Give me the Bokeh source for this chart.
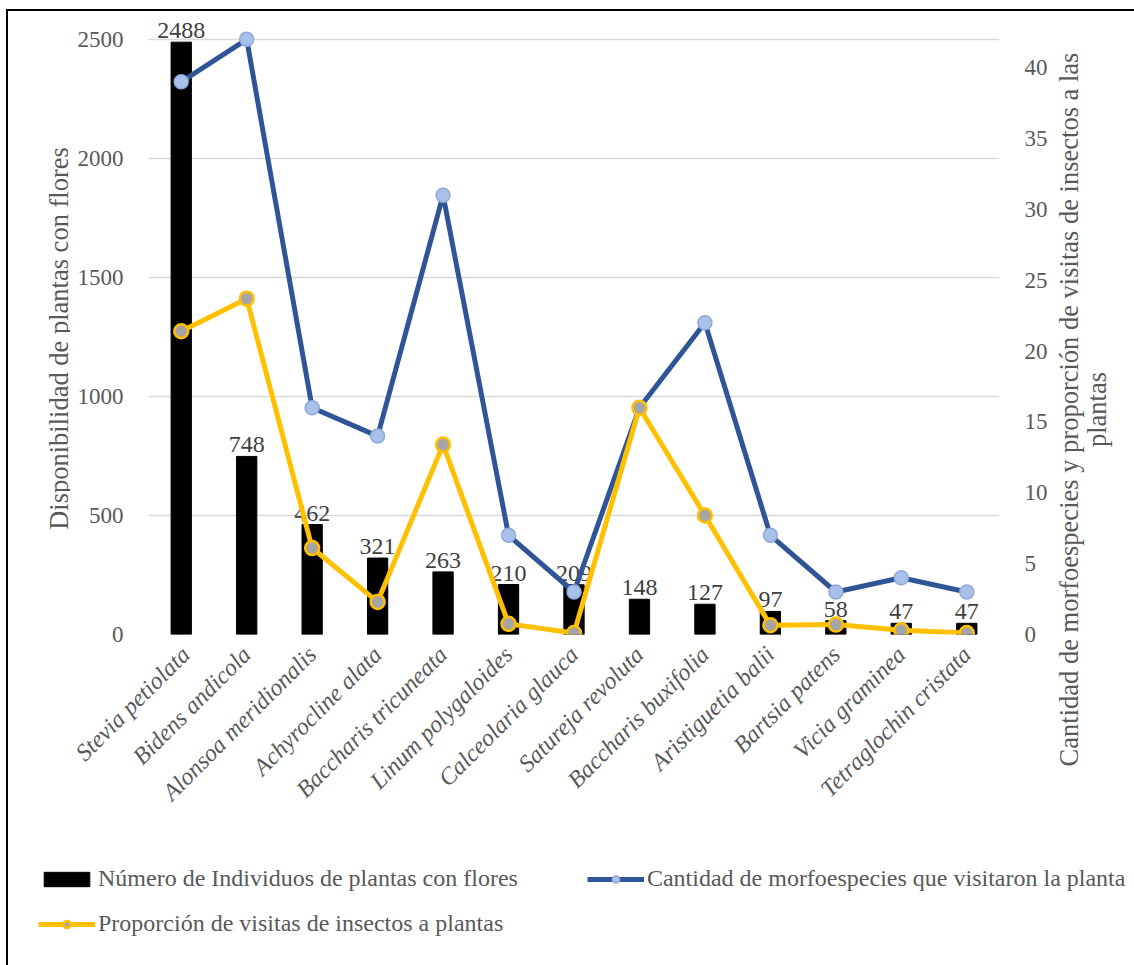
import math

from bokeh.core.properties import value
from bokeh.embed import file_html
from bokeh.layouts import column, row
from bokeh.models import (ColumnDataSource, FixedTicker, Label, Legend,
                          LegendItem, LinearAxis, Range1d)
from bokeh.plotting import figure
from bokeh.resources import INLINE

# --- data ---------------------------------------------------------------
especies = [
    "Stevia petiolata", "Bidens andicola", "Alonsoa meridionalis",
    "Achyrocline alata", "Baccharis tricuneata", "Linum polygaloides",
    "Calceolaria glauca", "Satureja revoluta", "Baccharis buxifolia",
    "Aristiguetia balii", "Bartsia patens", "Vicia graminea",
    "Tetraglochin cristata",
]
individuos = [2488, 748, 462, 321, 263, 210, 209, 148, 127, 97, 58, 47, 47]
morfoespecies = [39, 42, 16, 14, 31, 7, 3, 16, 22, 7, 3, 4, 3]
proporcion = [21.4, 23.7, 6.1, 2.3, 13.4, 0.75, 0.1, 16.0, 8.4, 0.65, 0.7, 0.3, 0.1]

ticks_izq = [0, 500, 1000, 1500, 2000, 2500]
ticks_der = [0, 5, 10, 15, 20, 25, 30, 35, 40]

nombre_barras = "Número de Individuos de plantas con flores"
nombre_morfo = "Cantidad de morfoespecies que visitaron la planta"
nombre_prop = "Proporción de visitas de insectos a plantas"
titulo_izq = "Disponibilidad de plantas con flores"
titulo_der_1 = "Cantidad de morfoespecies y proporción de visitas de insectos a las"
titulo_der_2 = "plantas"

# --- styling ------------------------------------------------------------
FONT = "Liberation Serif"
GRIS = "#595959"
AZUL = "#2F5597"
AMARILLO = "#FFC000"
AZUL_MARCA = "#A9C1E8"
AZUL_BORDE = "#8FAADC"
GRIS_MARCA = "#A5A5A5"

ALTO_GRAF = 829      # height of the chart row
ALTO_LEY = 125       # height of the legend strip
ANCHO_IZQ, ANCHO_GRAF, ANCHO_DER = 62, 980, 84

# left scale tops out at 2500 on the grid, right scale at 42 on the same line;
# both extend a little further so the top value label has room
y_max_izq = 2600
y_max_der = y_max_izq * 42 / 2500

src = ColumnDataSource(dict(
    especie=especies,
    individuos=individuos,
    etiqueta=[str(v) for v in individuos],
    morfo=morfoespecies,
    prop=proporcion,
))


def sin_alinear(f):
    """Keep each canvas' own plot area instead of lining it up with neighbours."""
    if hasattr(type(f), "frame_align"):
        f.frame_align = False
    return f


def lienzo(width, height):
    """Plain canvas without axes, used for titles and the legend."""
    f = figure(width=width, height=height, x_range=Range1d(0, 1),
               y_range=Range1d(0, 1), x_axis_type=None, y_axis_type=None,
               output_backend="svg", toolbar_location=None,
               min_border=0, min_border_left=0, min_border_right=0,
               min_border_top=0, min_border_bottom=0)
    f.outline_line_color = None
    f.grid.visible = False
    return sin_alinear(f)


# --- main chart ---------------------------------------------------------
p = figure(
    x_range=especies,
    y_range=Range1d(0, y_max_izq),
    width=ANCHO_GRAF, height=ALTO_GRAF,
    output_backend="svg", toolbar_location=None,
    min_border_left=78, min_border_right=50,
    min_border_top=4, min_border_bottom=206,
)
p.outline_line_color = None
sin_alinear(p)
p.extra_y_ranges = {"der": Range1d(0, y_max_der)}

p.yaxis.ticker = FixedTicker(ticks=ticks_izq)
eje_der = LinearAxis(y_range_name="der", ticker=FixedTicker(ticks=ticks_der))
p.add_layout(eje_der, "right")

for ax in [p.yaxis[0], eje_der]:
    ax.axis_line_color = None
    ax.major_tick_line_color = None
    ax.minor_tick_line_color = None
    ax.major_label_text_font = FONT
    ax.major_label_text_font_size = "23px"
    ax.major_label_text_color = GRIS
    ax.major_label_standoff = 19

xa = p.xaxis[0]
xa.axis_line_color = None
xa.major_tick_line_color = None
xa.minor_tick_line_color = None
xa.major_label_orientation = math.pi / 4
xa.major_label_text_font = FONT
xa.major_label_text_font_style = "italic"
xa.major_label_text_font_size = "24px"
xa.major_label_text_color = GRIS
xa.major_label_standoff = 10

p.xgrid.grid_line_color = None
p.ygrid.ticker = FixedTicker(ticks=ticks_izq)
p.ygrid.grid_line_color = "#D9D9D9"
p.ygrid.grid_line_width = 1.3

# bars and their value labels
p.vbar(x="especie", top="individuos", width=0.31, source=src,
       fill_color="black", line_color="black")
p.text(x="especie", y="individuos", text="etiqueta", source=src,
       y_offset=-4, text_align="center", text_baseline="bottom",
       text_font=value(FONT), text_font_size="24px", text_color="#404040")

# species visiting each plant (right axis)
p.line(x="especie", y="morfo", source=src, y_range_name="der",
       line_color=AZUL, line_width=5)
p.scatter(x="especie", y="morfo", source=src, y_range_name="der",
          size=14, fill_color=AZUL_MARCA, line_color=AZUL_BORDE, line_width=1.5)

# proportion of insect visits (right axis)
p.line(x="especie", y="prop", source=src, y_range_name="der",
       line_color=AMARILLO, line_width=5)
p.scatter(x="especie", y="prop", source=src, y_range_name="der",
          size=14, fill_color=GRIS_MARCA, line_color=AMARILLO, line_width=2.5)

# --- axis titles --------------------------------------------------------
t_izq = lienzo(ANCHO_IZQ, ALTO_GRAF)
t_izq.add_layout(Label(x=50, y=502, x_units="screen", y_units="screen",
                       text=titulo_izq, angle=math.pi / 2,
                       text_align="center", text_baseline="middle",
                       text_font=FONT, text_font_size="26.5px",
                       text_color=GRIS))

t_der = lienzo(ANCHO_DER, ALTO_GRAF)
for x_pos, texto in [(18, titulo_der_1), (46, titulo_der_2)]:
    t_der.add_layout(Label(x=x_pos, y=431, x_units="screen", y_units="screen",
                           text=texto, angle=math.pi / 2,
                           text_align="center", text_baseline="middle",
                           text_font=FONT, text_font_size="26.5px",
                           text_color=GRIS))

# --- legend strip -------------------------------------------------------
# hidden copies of the series give the legend its swatches; their values lie
# outside this strip's 0..1 ranges, so nothing but the legend is drawn here
ley_fig = lienzo(ANCHO_IZQ + ANCHO_GRAF + ANCHO_DER, ALTO_LEY)
r_barras = ley_fig.vbar(x="morfo", top="individuos", width=0.1, source=src,
                        fill_color="black", line_color="black", visible=False)
r_morfo = [ley_fig.line(x="morfo", y="prop", source=src, line_color=AZUL,
                        line_width=5, visible=False),
           ley_fig.scatter(x="morfo", y="prop", source=src, size=14,
                           fill_color=AZUL_MARCA, line_color=AZUL_BORDE,
                           line_width=1.5, visible=False)]
r_prop = [ley_fig.line(x="morfo", y="prop", source=src, line_color=AMARILLO,
                       line_width=5, visible=False),
          ley_fig.scatter(x="morfo", y="prop", source=src, size=14,
                          fill_color=GRIS_MARCA, line_color=AMARILLO,
                          line_width=2.5, visible=False)]


def leyenda(items, loc, spacing=0):
    ley = Legend(items=items, orientation="horizontal", location=loc,
                 spacing=spacing)
    ley.label_text_font = FONT
    ley.label_text_font_size = "24px"
    ley.label_text_color = GRIS
    ley.glyph_width = 57
    ley.glyph_height = 18
    ley.label_height = 24
    ley.label_standoff = 3
    ley.padding = 0
    ley.margin = 0
    ley.border_line_color = None
    ley.background_fill_alpha = 0
    ley.inactive_fill_alpha = 0
    return ley


ley_fig.add_layout(leyenda(
    [LegendItem(label=nombre_barras, renderers=[r_barras]),
     LegendItem(label=nombre_morfo, renderers=r_morfo)],
    (30, 73), spacing=69), "center")
ley_fig.add_layout(leyenda(
    [LegendItem(label=nombre_prop, renderers=r_prop)],
    (30, 28)), "center")

# --- page ---------------------------------------------------------------
pagina = column(row(t_izq, p, t_der), ley_fig)
pagina.styles = {
    "margin-left": "6px", "margin-top": "9px",
    "border-left": "2px solid black", "border-top": "2px solid black",
}

open("out.html", "w").write(file_html(pagina, INLINE))
